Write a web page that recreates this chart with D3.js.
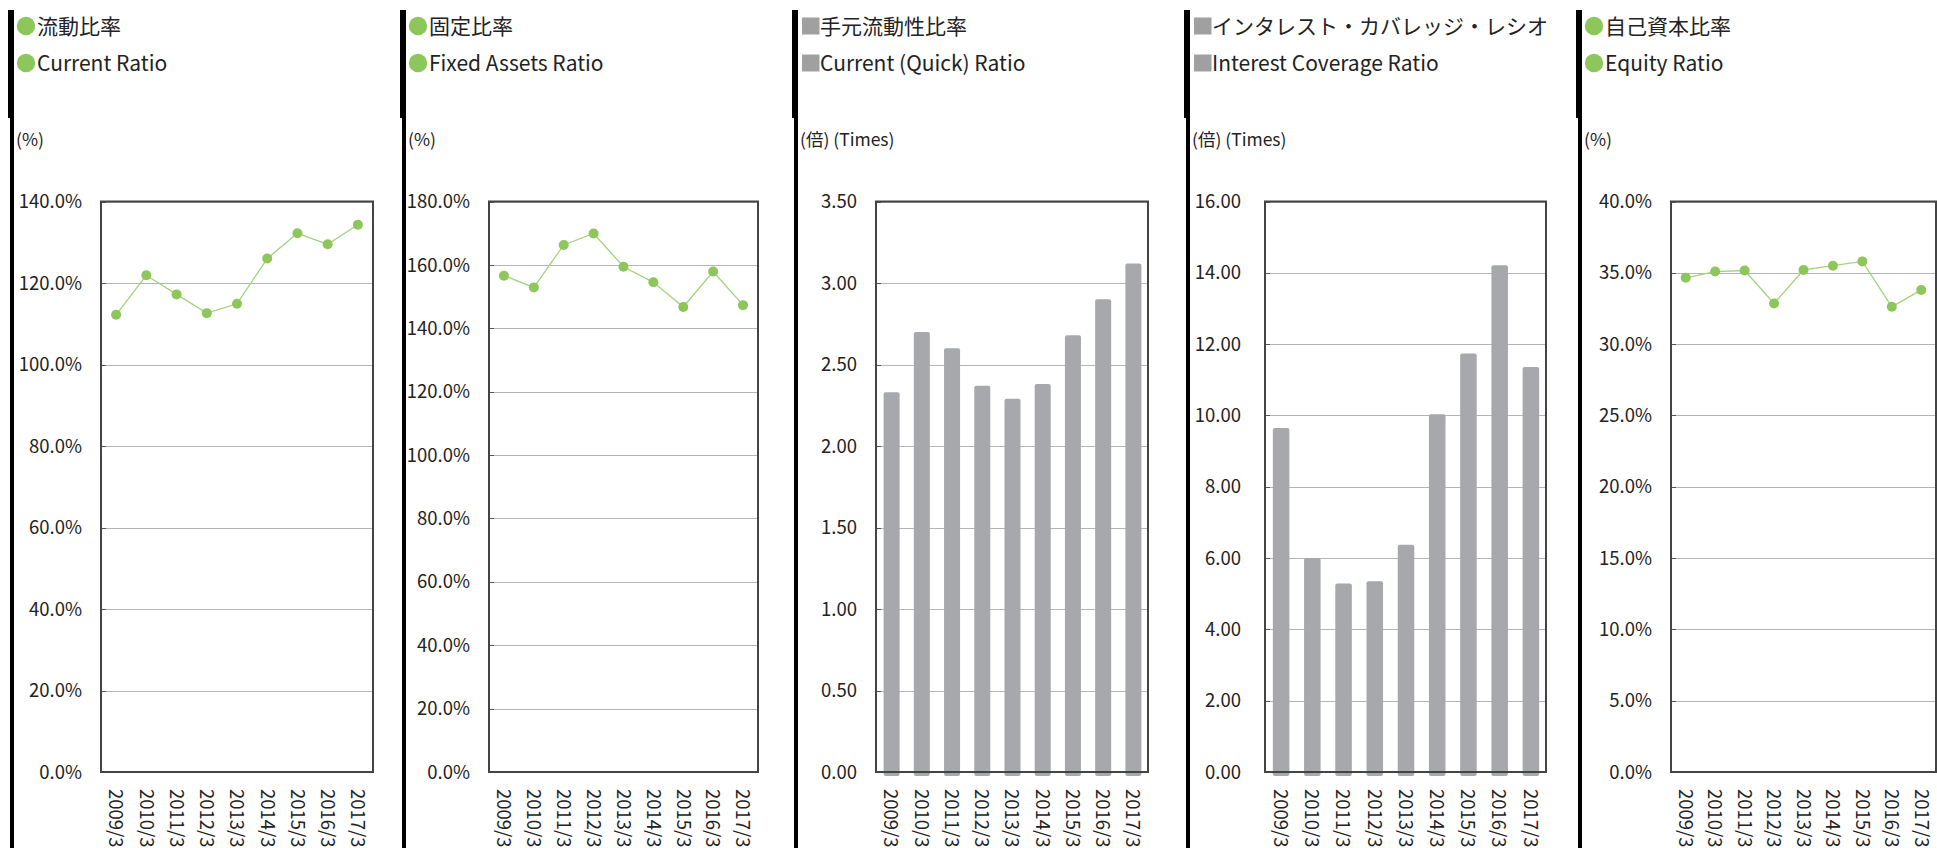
<!DOCTYPE html>
<html>
<head>
<meta charset="utf-8">
<script src="https://cdn.jsdelivr.net/npm/d3@7"></script>
<style>
	body { margin: 0; background: #fff; overflow: hidden; }
	svg { display: block; font-family: "Noto Sans CJK JP", "Noto Sans", sans-serif; }
</style>
</head>
<body>
<div id="chart"></div>
<script>
/**
 * Data.
 */
var years = ["2009/3", "2010/3", "2011/3", "2012/3", "2013/3", "2014/3", "2015/3", "2016/3", "2017/3"];
var currentRatio = [112.2, 121.9, 117.2, 112.6, 114.9, 126.0, 132.2, 129.5, 134.3];	// %
var fixedAssetsRatio = [156.6, 152.9, 166.3, 169.9, 159.4, 154.5, 146.7, 157.9, 147.3];	// %
var quickRatio = [2.33, 2.70, 2.60, 2.37, 2.29, 2.38, 2.68, 2.90, 3.12];	// times
var interestCoverage = [9.65, 6.00, 5.29, 5.35, 6.37, 10.03, 11.74, 14.21, 11.36];	// times
var equityRatio = [34.65, 35.09, 35.16, 32.85, 35.20, 35.50, 35.80, 32.62, 33.80];	// %

var titlesJa = ["流動比率", "固定比率", "手元流動性比率", "インタレスト・カバレッジ・レシオ", "自己資本比率"];
var titlesEn = ["Current Ratio", "Fixed Assets Ratio", "Current (Quick) Ratio", "Interest Coverage Ratio", "Equity Ratio"];
var units = ["(%)", "(%)", "(倍) (Times)", "(倍) (Times)", "(%)"];
var yMax = [140, 180, 3.5, 16, 40];
var yStep = [20, 20, 0.5, 2, 5];
var series = [currentRatio, fixedAssetsRatio, quickRatio, interestCoverage, equityRatio];
var kinds = ["line", "line", "bar", "bar", "line"];

{
	var W = 1937, H = 848;
	var green = "#8dc65b", lineGreen = "#a2d27f", barGrey = "#a7a8ab", keyGrey = "#a0a0a0";

	// Layout of each panel: left edge of the panel and of its plot frame.
	var panelX = [8, 400, 792, 1184, 1576];
	var frames = [
		{ left: 101, right: 373, gap: 19 },
		{ left: 489, right: 758, gap: 19 },
		{ left: 876, right: 1148, gap: 19 },
		{ left: 1265, right: 1546, gap: 24 },
		{ left: 1671, right: 1936, gap: 19 }
	];
	var plotTop = 201.5, plotBottom = 772;

	var svg = d3.select("#chart").append("svg")
		.attr("width", W)
		.attr("height", H);

	series.forEach(function (values, i) {
		var p = panelX[i], f = frames[i];
		var g = svg.append("g");
		var isBar = kinds[i] == "bar";

		// Left black rule.
		g.append("rect").attr("x", p).attr("y", 10).attr("width", 6).attr("height", 108).attr("fill", "#000");
		g.append("rect").attr("x", p + 2).attr("y", 118).attr("width", 4).attr("height", H - 118).attr("fill", "#000");

		// Title keys.
		[titlesJa[i], titlesEn[i]].forEach(function (t, k) {
			var cy = k == 0 ? 26 : 63;
			if (isBar) {
				g.append("rect")
					.attr("x", p + 10).attr("y", cy - 8.5)
					.attr("width", 17.5).attr("height", 17)
					.attr("fill", keyGrey);
			} else {
				g.append("circle")
					.attr("cx", p + 18).attr("cy", cy).attr("r", 9.2)
					.attr("fill", green);
			}
			g.append("text")
				.attr("x", p + (isBar ? 28 : 29))
				.attr("y", k == 0 ? 34 : 71)
				.attr("font-size", 21)
				.attr("fill", "#222")
				.text(t);
		});

		// Unit label.
		g.append("text")
			.attr("x", p + 8)
			.attr("y", 146)
			.attr("font-size", 17.5)
			.attr("fill", "#222")
			.text(units[i]);

		var x = d3.scaleBand().domain(years).range([f.left, f.right]);
		var y = d3.scaleLinear().domain([0, yMax[i]]).range([plotBottom, plotTop]);
		var ticks = d3.range(0, yMax[i] + yStep[i] / 2, yStep[i]);
		var fmt = units[i] == "(%)" ? function (v) { return d3.format(".1f")(v) + "%"; } : d3.format(".2f");

		// Grid lines.
		g.selectAll(".grid")
			.data(ticks)
			.enter().append("line")
			.attr("x1", f.left).attr("x2", f.right)
			.attr("y1", function (d) { return Math.round(y(d)) + 0.5; })
			.attr("y2", function (d) { return Math.round(y(d)) + 0.5; })
			.attr("stroke", "#b5b5b5")
			.attr("stroke-width", 1);

		// Small ticks inside the frame.
		g.selectAll(".tick")
			.data(ticks)
			.enter().append("line")
			.attr("x1", f.left).attr("x2", f.left + 5)
			.attr("y1", function (d) { return Math.round(y(d)) + 0.5; })
			.attr("y2", function (d) { return Math.round(y(d)) + 0.5; })
			.attr("stroke", "#555");

		// Y tick labels.
		g.selectAll(".ylab")
			.data(ticks)
			.enter().append("text")
			.attr("x", f.left - f.gap)
			.attr("y", function (d) { return y(d); })
			.attr("dy", "0.36em")
			.attr("text-anchor", "end")
			.attr("font-size", 18.5)
			.attr("fill", "#222")
			.text(fmt);

		if (isBar) {
			var bw = x.bandwidth() * 0.53;
			g.selectAll(".bar")
				.data(values)
				.enter().append("rect")
				.attr("x", function (d, j) { return x(years[j]) + (x.bandwidth() - bw) / 2 + 0.5; })
				.attr("y", function (d) { return y(d); })
				.attr("width", bw)
				.attr("height", function (d) { return plotBottom - y(d) + 4; })
				.attr("rx", 2)
				.attr("fill", barGrey);
		} else {
			var line = d3.line()
				.x(function (d, j) { return x(years[j]) + x.bandwidth() / 2; })
				.y(function (d) { return y(d); });
			g.append("path")
				.datum(values)
				.attr("d", line)
				.attr("fill", "none")
				.attr("stroke", lineGreen)
				.attr("stroke-width", 1.3);
			g.selectAll(".pt")
				.data(values)
				.enter().append("circle")
				.attr("cx", function (d, j) { return x(years[j]) + x.bandwidth() / 2; })
				.attr("cy", function (d) { return y(d); })
				.attr("r", 5)
				.attr("fill", green);
		}

		// Frame.
		g.append("rect")
			.attr("x", f.left).attr("y", plotTop)
			.attr("width", f.right - f.left).attr("height", plotBottom - plotTop)
			.attr("fill", "none")
			.attr("stroke", "#444")
			.attr("stroke-width", 2);

		// X labels, rotated.
		g.selectAll(".xlab")
			.data(years)
			.enter().append("text")
			.attr("transform", function (d) {
				return "translate(" + (x(d) + x.bandwidth() / 2) + "," + 789 + ") rotate(90)";
			})
			.attr("dy", "0.36em")
			.attr("font-size", 18.5)
			.attr("fill", "#222")
			.text(function (d) { return d; });
	});
}
</script>
</body>
</html>
